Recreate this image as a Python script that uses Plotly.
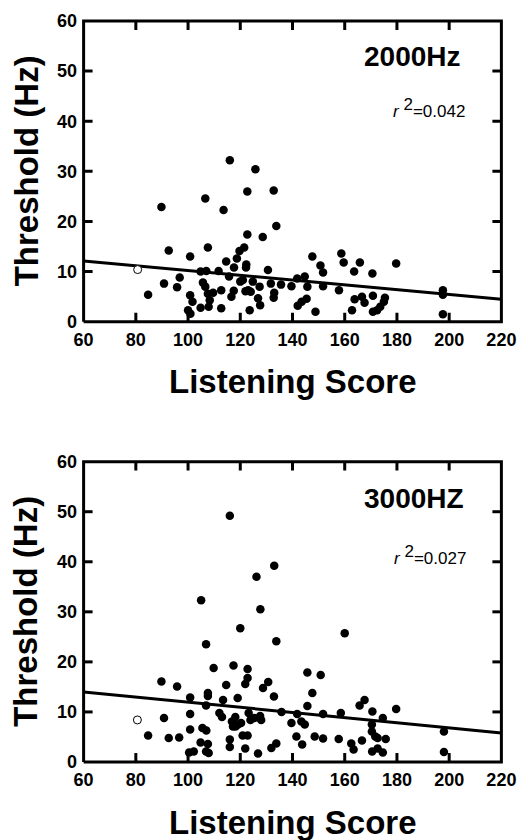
import numpy as np
import plotly.graph_objects as go

# ---------------- data ----------------
x_2000 = [84.7, 89.8, 90.8, 92.6, 95.8, 96.8, 100.8, 100.8, 101.7, 100.0, 100.9, 104.8, 104.8,
          106.6, 107.0, 105.7, 106.6, 107.6, 107.6, 108.3, 107.9, 109.6, 111.7, 112.7, 112.7,
          113.6, 114.6, 115.7, 116.0, 116.6, 117.5, 117.6, 118.7, 119.7, 120.0, 121.0, 121.5,
          122.2, 122.3, 122.7, 122.7, 122.0, 123.0, 124.0, 123.6, 124.8, 125.8, 127.4, 126.8,
          127.6, 128.6, 130.6, 131.7, 132.8, 133.8, 133.0, 132.8, 135.6, 139.6, 141.8, 144.7,
          145.7, 142.0, 143.5, 145.4, 147.6, 148.8, 150.7, 151.7, 151.7, 157.8, 158.7, 159.6,
          163.6, 165.8, 162.8, 163.8, 166.6, 167.6, 170.6, 170.8, 170.8, 172.4, 173.6, 175.0,
          175.4, 179.7, 197.6, 197.6, 197.6]
y_2000 = [5.4, 22.9, 7.6, 14.2, 6.9, 8.8, 13.0, 5.3, 4.0, 2.3, 1.6, 2.8, 10.0,
          24.6, 10.1, 7.8, 7.0, 14.8, 5.6, 4.3, 3.0, 5.8, 10.1, 6.3, 2.7,
          22.3, 12.0, 9.0, 32.2, 5.0, 6.2, 10.8, 12.6, 14.1, 8.0, 8.3, 14.8,
          10.8, 11.4, 17.4, 26.0, 6.1, 6.3, 6.0, 2.3, 8.0, 30.4, 7.0, 4.7,
          3.3, 16.9, 10.3, 7.6, 26.2, 19.1, 5.8, 4.8, 7.4, 7.1, 8.6, 9.0,
          7.0, 3.2, 4.0, 4.6, 13.0, 2.0, 11.2, 9.8, 7.1, 6.3, 13.6, 11.8,
          10.0, 11.8, 2.3, 4.5, 5.0, 3.8, 9.6, 5.2, 2.0, 2.3, 3.0, 4.0,
          4.8, 11.6, 6.3, 5.4, 1.5]
open_2000_x = [80.7]
open_2000_y = [10.4]
fit_2000 = {"intercept": 14.95, "slope": -0.0475}
label_2000 = "2000Hz"
r2_2000 = "0.042"

x_3000 = [84.7, 89.8, 90.8, 92.6, 95.8, 96.6, 100.8, 100.8, 100.8, 100.4, 102.2, 104.8, 105.0,
          105.5, 107.0, 106.9, 107.6, 107.6, 106.9, 106.9, 107.9, 107.6, 109.8, 112.0, 113.0,
          113.4, 114.6, 116.0, 117.4, 119.0, 116.0, 116.0, 116.8, 117.2, 118.1, 118.2, 119.1,
          120.3, 120.0, 120.9, 122.8, 121.9, 121.9, 122.8, 122.8, 123.2, 123.9, 125.4, 126.2,
          126.8, 127.7, 127.6, 128.0, 128.7, 130.7, 131.9, 133.8, 132.9, 133.0, 133.8, 135.8,
          139.6, 141.8, 143.4, 144.7, 141.5, 143.7, 145.7, 145.7, 147.6, 150.8, 151.7, 148.5,
          151.7, 157.7, 158.5, 160.0, 162.5, 163.4, 165.7, 167.6, 166.6, 170.6, 170.4, 170.4,
          171.7, 172.6, 174.6, 175.7, 170.5, 172.6, 174.6, 179.7, 198.0, 198.0]
y_3000 = [5.3, 16.1, 8.8, 4.8, 15.1, 4.9, 12.9, 9.6, 6.5, 1.9, 2.1, 3.9, 32.3,
          6.8, 6.3, 23.5, 13.8, 13.2, 11.3, 2.1, 1.8, 3.6, 18.8, 9.8, 9.0,
          12.4, 15.4, 49.2, 19.3, 12.8, 4.5, 3.0, 8.1, 7.1, 9.0, 7.1, 7.5,
          7.8, 26.7, 5.3, 5.3, 2.7, 15.6, 16.8, 18.6, 9.8, 8.4, 8.8, 37.0,
          1.7, 30.5, 9.2, 8.4, 14.8, 16.0, 2.8, 3.7, 13.1, 39.2, 24.1, 10.0,
          7.8, 9.6, 8.1, 7.5, 5.1, 3.5, 17.9, 11.2, 13.8, 17.4, 9.6, 5.1,
          4.7, 4.6, 9.8, 25.7, 3.7, 2.5, 11.3, 12.4, 4.3, 10.1, 7.5, 6.1,
          5.1, 4.8, 8.8, 4.6, 2.1, 2.7, 1.9, 10.6, 6.1, 2.0]
open_3000_x = [80.6]
open_3000_y = [8.4]
fit_3000 = {"intercept": 17.08, "slope": -0.0513}
label_3000 = "3000HZ"
r2_3000 = "0.027"

x_ticks = [60, 80, 100, 120, 140, 160, 180, 200, 220]
y_ticks = [0, 10, 20, 30, 40, 50, 60]
x_title = "Listening Score"
y_title = "Threshold (Hz)"

# ---------------- figure ----------------
FONT = "Liberation Sans, Arial, Helvetica, sans-serif"
PAD_X, PAD_Y = 1.0, 0.6           # small range padding so the frame line is not clipped
X_RANGE = [x_ticks[0] - PAD_X, x_ticks[-1] + PAD_X]
Y_RANGE = [y_ticks[0] - PAD_Y, y_ticks[-1] + PAD_Y]
TOP_DOM = [0.5894, 1.0]
BOT_DOM = [0.0, 0.4101]
TICK_LEN_X = 3.44                 # inside tick length on the x scale (for y ticks)
TICK_LEN_Y = 1.79                 # inside tick length on the y scale (for x ticks)

fig = go.Figure()

panels = [
    ("x", "y", x_2000, y_2000, open_2000_x, open_2000_y, fit_2000),
    ("x2", "y2", x_3000, y_3000, open_3000_x, open_3000_y, fit_3000),
]

x0, x1 = x_ticks[0], x_ticks[-1]
y0, y1 = y_ticks[0], y_ticks[-1]
for xa, ya, xs, ys, ox, oy, fit in panels:
    fx = np.array([x0, x1], dtype=float)
    fy = fit["intercept"] + fit["slope"] * fx
    fig.add_trace(go.Scatter(x=fx, y=fy, mode="lines", xaxis=xa, yaxis=ya,
                             line=dict(color="black", width=3), showlegend=False,
                             hoverinfo="skip"))
    fig.add_trace(go.Scatter(x=xs, y=ys, mode="markers", xaxis=xa, yaxis=ya,
                             marker=dict(color="black", size=8.5, line=dict(width=0)),
                             showlegend=False))
    fig.add_trace(go.Scatter(x=ox, y=oy, mode="markers", xaxis=xa, yaxis=ya,
                             marker=dict(color="white", size=8,
                                         line=dict(color="black", width=1)),
                             showlegend=False))
    # frame of the panel
    fig.add_trace(go.Scatter(x=[x0, x1, x1, x0, x0], y=[y0, y0, y1, y1, y0], mode="lines",
                             xaxis=xa, yaxis=ya, line=dict(color="black", width=3),
                             showlegend=False, hoverinfo="skip"))
    # inside tick marks on all four sides
    tx, ty = [], []
    for t in x_ticks[1:-1]:
        tx += [t, t, None, t, t, None]
        ty += [y0, y0 + TICK_LEN_Y, None, y1, y1 - TICK_LEN_Y, None]
    for t in y_ticks[1:-1]:
        tx += [x0, x0 + TICK_LEN_X, None, x1, x1 - TICK_LEN_X, None]
        ty += [t, t, None, t, t, None]
    fig.add_trace(go.Scatter(x=tx, y=ty, mode="lines", xaxis=xa, yaxis=ya,
                             line=dict(color="black", width=3), connectgaps=False,
                             showlegend=False, hoverinfo="skip"))

axis_common = dict(
    showline=False, ticks="", showgrid=False, zeroline=False, automargin=False,
    tickfont=dict(family=FONT, size=18, color="black", weight="bold"),
)

fig.update_layout(
    width=519, height=840,
    margin=dict(l=80.7, r=14.7, t=17.7, b=74.7, autoexpand=False),
    paper_bgcolor="white", plot_bgcolor="white",
    xaxis=dict(axis_common, domain=[0, 1], range=X_RANGE, tickvals=x_ticks, anchor="y",
               ticklabelstandoff=2),
    yaxis=dict(axis_common, domain=TOP_DOM, range=Y_RANGE, tickvals=y_ticks, anchor="x",
               ticklabelstandoff=3),
    xaxis2=dict(axis_common, domain=[0, 1], range=X_RANGE, tickvals=x_ticks, anchor="y2",
                ticklabelstandoff=2),
    yaxis2=dict(axis_common, domain=BOT_DOM, range=Y_RANGE, tickvals=y_ticks, anchor="x2",
                ticklabelstandoff=3),
)

ann = []
for (xd, yd, lab, r2, lab_x, lab_y, r2_x, r2_y) in [
        ("x domain", "y domain", label_2000, r2_2000, 0.9025, 0.875, 0.912, 0.7075),
        ("x2 domain", "y2 domain", label_3000, r2_3000, 0.911, 0.8686, 0.914, 0.686)]:
    ann.append(dict(xref=xd, yref=yd, x=lab_x, y=lab_y, xanchor="right", yanchor="middle",
                    text=lab, showarrow=False,
                    font=dict(family=FONT, size=28, color="black", weight="bold")))
    ann.append(dict(xref=xd, yref=yd, x=r2_x, y=r2_y, xanchor="right", yanchor="middle",
                    text="<i>r</i> <sup><span style='font-size:17px'>2</span></sup>=" + r2,
                    showarrow=False,
                    font=dict(family=FONT, size=17, color="black")))
    ann.append(dict(xref=xd, yref=yd, x=0.5, y=0, xanchor="center", yanchor="middle",
                    yshift=-57, text=x_title, showarrow=False,
                    font=dict(family=FONT, size=33, color="black", weight="bold")))
    ann.append(dict(xref="paper", yref=yd, x=0, y=0.5, xanchor="center", yanchor="middle",
                    xshift=-55, textangle=-90, text=y_title, showarrow=False,
                    font=dict(family=FONT, size=33, color="black", weight="bold")))
fig.update_layout(annotations=ann)

# remove the page's default body margin so the 519x840 figure fills the window exactly
fig.write_html("out.html", config={"displayModeBar": False},
               post_script="document.body.style.margin='0';")
